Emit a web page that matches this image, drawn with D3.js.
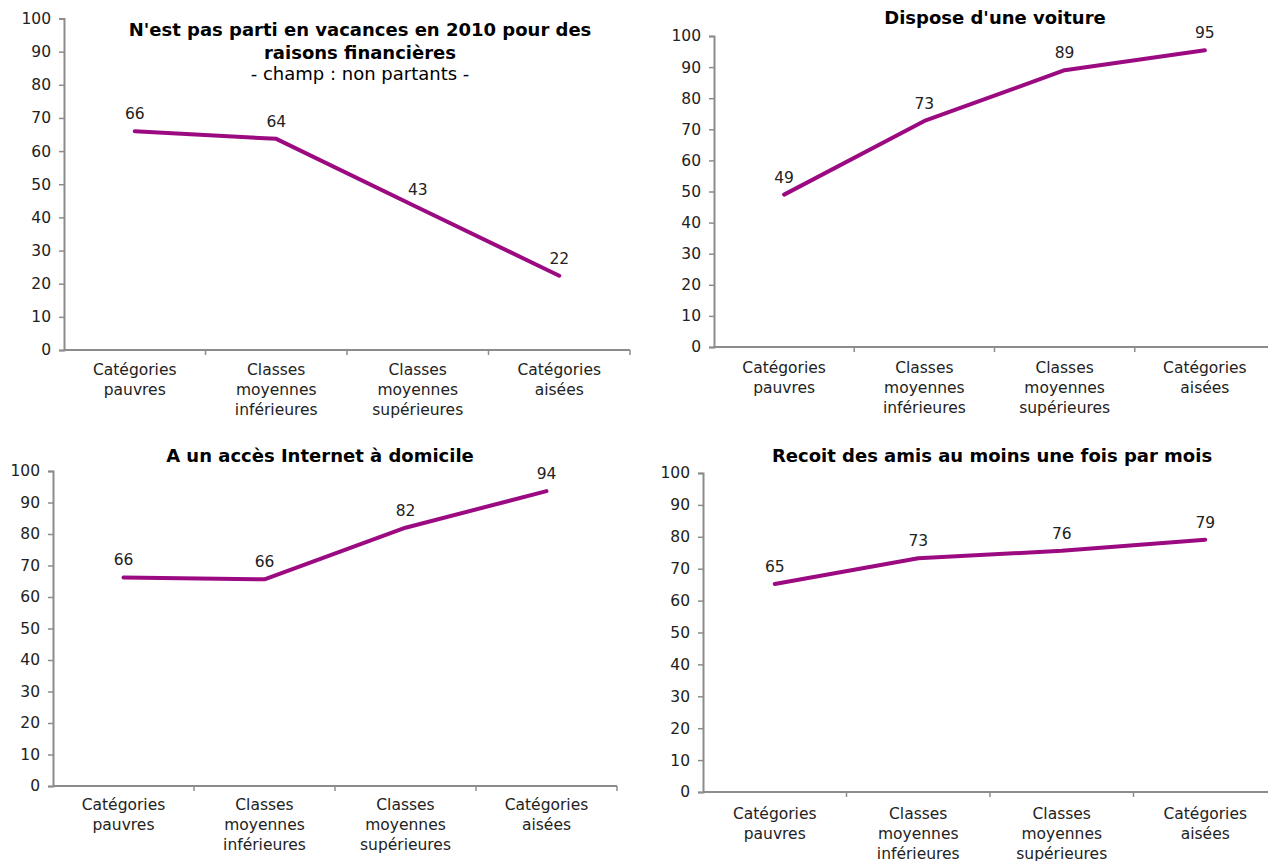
<!DOCTYPE html>
<html>
<head>
<meta charset="utf-8">
<script src="https://cdn.jsdelivr.net/npm/d3@7"></script>
<style>
  body { margin: 0; background: #fff; }
  svg { display: block; font-family: "DejaVu Sans", Verdana, sans-serif; }
</style>
</head>
<body>
<svg id="chart" width="1268" height="861"></svg>
<script>
const categories = [
  ["Catégories", "pauvres"],
  ["Classes", "moyennes", "inférieures"],
  ["Classes", "moyennes", "supérieures"],
  ["Catégories", "aisées"]
];
const vacancesValues = [66, 63.7, 43, 22.4];
const voitureValues = [49, 72.7, 89, 95.4];
const internetValues = [66.2, 65.6, 82, 93.6];
const amisValues = [65.2, 73.3, 75.6, 79.1];
const yTicks = [0, 10, 20, 30, 40, 50, 60, 70, 80, 90, 100];

const vacancesTitle = ["N'est pas parti en vacances en 2010 pour des", "raisons financières"];
const vacancesSubtitle = "- champ : non partants -";
const voitureTitle = ["Dispose d'une voiture"];
const internetTitle = ["A un accès Internet à domicile"];
const amisTitle = ["Recoit des amis au moins une fois par mois"];

const lineColor = "#9b0a80";
const axisColor = "#8c8c8c";

const svg = d3.select("#chart");

const panels = [
  { values: vacancesValues, title: vacancesTitle, subtitle: vacancesSubtitle,
    x0: 64, x1: 630, top: 18.5, bottom: 350, titleX: 360, titleY: 36, labelDy: 25 },
  { values: voitureValues, title: voitureTitle,
    x0: 714, x1: 1275, top: 36, bottom: 347, titleX: 995, titleY: 24, labelDy: 26 },
  { values: internetValues, title: internetTitle,
    x0: 53, x1: 617, top: 471, bottom: 786, titleX: 320, titleY: 462, labelDy: 24 },
  { values: amisValues, title: amisTitle,
    x0: 703, x1: 1277, top: 473, bottom: 792, titleX: 992, titleY: 462, labelDy: 27 }
];

panels.forEach((p) => {
  const x = d3.scaleBand().domain(d3.range(categories.length)).range([p.x0, p.x1]);
  const y = d3.scaleLinear().domain([0, 100]).range([p.bottom, p.top]);

  const g = svg.append("g");

  // y axis
  const yAxis = g.append("g")
    .attr("transform", `translate(${p.x0},0)`)
    .call(d3.axisLeft(y).tickValues(yTicks).tickSize(5).tickPadding(8));
  yAxis.select(".domain").attr("stroke", axisColor).attr("stroke-width", 2);
  yAxis.selectAll(".tick line").attr("stroke", axisColor).attr("stroke-width", 1.5);
  yAxis.selectAll(".tick text")
    .attr("fill", "#222").style("font-size", "15.5px").style("font-family", "DejaVu Sans");

  // x axis: line with ticks at band boundaries
  g.append("line")
    .attr("x1", p.x0).attr("x2", p.x1)
    .attr("y1", y(0)).attr("y2", y(0))
    .attr("stroke", axisColor).attr("stroke-width", 2);

  g.selectAll(".xtick")
    .data(d3.range(1, categories.length + 1))
    .enter()
    .append("line")
    .attr("x1", (i) => p.x0 + i * x.bandwidth())
    .attr("x2", (i) => p.x0 + i * x.bandwidth())
    .attr("y1", y(0)).attr("y2", y(0) + 5)
    .attr("stroke", axisColor).attr("stroke-width", 1.5);

  // category labels
  const cat = g.selectAll(".cat")
    .data(categories)
    .enter()
    .append("text")
    .attr("text-anchor", "middle")
    .attr("fill", "#222")
    .style("font-size", "15.5px");
  cat.selectAll("tspan")
    .data((d, i) => d.map((t) => ({ t, i })))
    .enter()
    .append("tspan")
    .attr("x", (d) => x(d.i) + x.bandwidth() / 2)
    .attr("y", (d, j) => y(0) + p.labelDy + j * 20)
    .text((d) => d.t);

  // line
  const line = d3.line()
    .x((d, i) => x(i) + x.bandwidth() / 2)
    .y((d) => y(d));
  g.append("path")
    .datum(p.values)
    .attr("d", line)
    .attr("fill", "none")
    .attr("stroke", lineColor)
    .attr("stroke-width", 4)
    .attr("stroke-linejoin", "round")
    .attr("stroke-linecap", "round");

  // data labels
  g.selectAll(".val")
    .data(p.values)
    .enter()
    .append("text")
    .attr("x", (d, i) => x(i) + x.bandwidth() / 2)
    .attr("y", (d) => y(d) - 12)
    .attr("text-anchor", "middle")
    .attr("fill", "#222")
    .style("font-size", "15.5px")
    .text((d) => Math.round(d));

  // title
  g.selectAll(".title")
    .data(p.title)
    .enter()
    .append("text")
    .attr("x", p.titleX)
    .attr("y", (d, i) => p.titleY + i * 23)
    .attr("text-anchor", "middle")
    .attr("fill", "#000")
    .style("font-size", "18px")
    .style("font-weight", "bold")
    .text((d) => d);

  if (p.subtitle) {
    g.append("text")
      .attr("x", p.titleX)
      .attr("y", p.titleY + p.title.length * 22)
      .attr("text-anchor", "middle")
      .attr("fill", "#000")
      .style("font-size", "18px")
      .text(p.subtitle);
  }
});
</script>
</body>
</html>
